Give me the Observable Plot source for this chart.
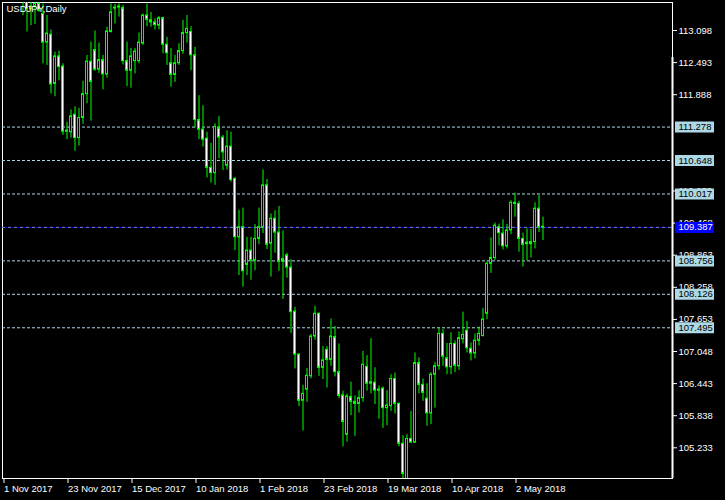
<!DOCTYPE html>
<html>
<head>
<meta charset="utf-8">
<script src="https://cdn.jsdelivr.net/npm/d3@7"></script>
<script src="https://cdn.jsdelivr.net/npm/@observablehq/plot@0.6"></script>
<style>
  html, body { margin: 0; padding: 0; background: #000; overflow: hidden; }
  #chart { width: 725px; height: 500px; }
  #chart svg { display: block; }
</style>
</head>
<body>
<div id="chart"></div>
<script>
// ---- data (USDJPY daily, bar index 0 = 1 Nov 2017) ----
const title = "USDJPY,Daily";
const open  = [113.90,114.05,114.00,114.05,113.75,113.90,113.85,113.50,113.55,113.60,
  113.41,112.87,113.02,112.09,112.61,112.42,111.19,111.18,111.51,111.07,
  111.45,111.90,112.51,112.73,112.36,112.54,112.27,113.07,113.51,113.53,
  113.52,112.52,112.34,112.52,112.52,112.85,113.38,113.29,113.25,113.19,
  113.33,112.83,112.48,112.26,112.48,112.71,113.05,113.07,112.63,111.41,
  111.23,111.06,110.51,110.41,111.26,111.08,110.55,110.91,110.30,109.20,
  109.39,108.68,108.95,108.76,109.17,109.39,110.18,109.08,109.55,109.29,
  108.74,108.86,108.63,107.80,106.99,106.12,106.33,106.58,107.33,107.76,
  106.74,107.08,106.89,107.32,106.66,106.22,105.48,106.19,106.10,106.06,
  106.17,106.76,106.44,106.46,106.33,106.35,105.98,106.02,106.53,106.06,
  105.31,104.64,105.40,105.33,106.83,106.42,106.16,105.88,106.61,106.77,
  107.38,106.92,106.75,107.19,106.77,107.28,107.44,107.10,107.01,107.25,
  107.34,107.76,108.70,108.81,109.39,109.27,109.03,109.33,109.85,109.83,
  109.17,109.10,109.07,109.11,109.74,109.40];
const high  = [114.20,114.30,114.70,114.25,114.00,114.05,114.05,113.70,113.75,113.70,
  113.60,113.38,113.11,112.69,112.71,112.47,111.37,111.60,111.66,111.63,
  112.14,112.63,112.88,113.09,112.86,112.63,113.16,113.60,113.59,113.60,
  113.57,112.88,112.76,112.76,113.05,113.41,113.60,113.44,113.32,113.36,
  113.35,112.97,112.76,112.63,112.85,113.29,113.38,113.17,112.78,111.87,
  111.68,111.18,110.97,111.34,111.48,111.12,111.21,111.18,110.33,109.71,
  109.75,109.20,109.20,109.44,109.75,110.47,110.29,109.64,109.70,109.78,
  109.32,108.90,108.78,107.88,107.01,106.41,106.73,107.37,107.90,107.77,
  107.14,107.14,107.66,107.52,107.19,106.30,106.24,106.47,106.21,106.31,
  107.05,106.97,107.29,106.74,106.40,106.38,106.31,106.61,106.64,106.08,
  105.46,105.48,105.92,107.02,106.93,106.53,106.44,106.65,106.84,107.49,
  107.46,107.20,107.40,107.25,107.42,107.79,107.61,107.21,107.38,107.51,
  107.86,108.74,109.19,109.47,109.45,109.53,109.44,109.89,110.03,109.88,
  109.28,109.36,109.35,109.85,109.99,109.58];
const low   = [113.72,113.80,113.95,113.70,113.68,113.38,113.07,113.19,113.21,113.44,
  112.47,112.44,111.90,111.85,112.15,111.12,111.04,111.07,110.82,110.92,
  111.33,111.72,111.39,112.33,112.29,111.98,112.20,113.05,113.22,113.35,
  112.45,112.04,112.01,112.28,112.47,112.82,113.17,113.16,113.11,113.11,
  112.66,112.44,112.03,112.12,112.44,112.65,112.86,112.34,111.26,111.04,
  110.90,110.32,110.22,110.18,110.68,110.46,110.47,110.24,108.95,108.48,
  108.26,108.48,108.39,108.57,109.06,109.27,108.97,108.45,108.90,108.56,
  108.03,108.43,107.39,106.72,106.01,105.55,106.09,106.53,107.26,106.58,
  106.52,106.36,106.77,106.57,106.16,105.25,105.34,105.84,105.45,105.89,
  106.09,106.30,106.25,106.05,105.77,105.60,105.65,105.92,105.87,105.25,
  104.63,104.56,105.33,105.32,106.25,106.11,105.64,105.67,105.98,106.69,
  106.77,106.61,106.61,106.65,106.69,107.19,107.02,106.87,106.91,107.15,
  107.32,107.65,108.52,108.76,109.04,108.96,108.98,109.25,109.58,108.92,
  108.64,108.76,108.81,108.98,109.29,109.14];
const close = [114.05,114.00,114.05,113.75,113.90,113.85,113.50,113.55,113.60,113.47,
  112.87,113.04,112.08,112.61,112.41,111.19,111.21,111.48,111.07,111.45,
  111.90,112.51,112.13,112.36,112.54,112.27,113.08,113.44,113.53,113.55,
  112.52,112.34,112.61,112.70,112.87,113.38,113.30,113.25,113.20,113.33,
  112.83,112.67,112.26,112.48,112.71,113.05,113.13,112.63,111.41,111.23,
  111.04,110.51,110.41,111.28,111.08,110.80,110.91,110.28,109.20,109.39,
  108.56,108.95,108.76,109.17,109.39,110.18,109.06,109.55,109.29,108.74,
  108.79,108.63,107.79,106.99,106.12,106.25,106.59,107.33,107.76,106.74,
  106.88,106.89,107.33,106.66,106.21,105.72,106.20,106.10,106.06,106.17,
  106.80,106.44,106.47,106.31,106.31,105.98,106.03,106.53,106.06,105.31,
  104.74,105.40,105.33,106.83,106.42,106.27,105.88,106.61,106.77,107.38,
  106.95,106.75,107.19,106.78,107.30,107.36,107.11,107.01,107.25,107.38,
  107.65,108.70,108.81,109.42,109.28,109.03,109.33,109.85,109.83,109.17,
  109.06,109.07,109.11,109.74,109.39,109.387];

const xTickIndex  = [0, 16, 32, 48, 64, 80, 96, 112, 128];
const xTickLabels = ["1 Nov 2017","23 Nov 2017","15 Dec 2017","10 Jan 2018","1 Feb 2018",
                     "23 Feb 2018","19 Mar 2018","10 Apr 2018","2 May 2018"];
// axis ticks (those fully covered by the level boxes are left out)
const yTicks = [113.098,112.493,111.888,110.073,109.468,108.863,
                108.258,107.653,107.048,106.443,105.838,105.233];
const levels = [111.278,110.648,110.017,108.756,108.126,107.495];
const currentPrice = 109.387;

// ---- build ----
const candles = open.map((o, i) => ({i, o, h: high[i], l: low[i], c: close[i]}));

const W = 725, H = 500;
const mL = 2, mR = 53, mT = 2, mB = 22;
const xDomain = [-0.125, (W - mL - mR) / 4 - 0.125];
const yDomain = [104.6544, 113.6257];
const xEnd = xDomain[1];
const green = "#00ff00", lightBlue = "#add8e6";
const font = "Liberation Sans, Arial, sans-serif";

const chart = Plot.plot({
  width: W, height: H,
  marginLeft: mL, marginRight: mR, marginTop: mT, marginBottom: mB,
  style: {background: "#000", color: "#fff", fontFamily: font, fontSize: "9px", overflow: "visible"},
  x: {domain: xDomain, label: null},
  y: {domain: yDomain, label: null},
  marks: [
    Plot.frame({stroke: "#fff"}),
    Plot.ruleY(levels, {stroke: lightBlue, strokeDasharray: "3,2"}),
    Plot.ruleY([currentPrice], {stroke: "#0000ff"}),
    Plot.ruleY([currentPrice], {stroke: "#8080a0", strokeDasharray: "3,3"}),
    Plot.ruleX(candles, {x: "i", y1: "l", y2: "h", stroke: green, clip: true}),
    Plot.rect(candles, {
      x1: d => d.i - 0.25, x2: d => d.i + 0.25, y1: "o", y2: "c",
      fill: d => d.c < d.o ? "#fff" : "#000", stroke: green, clip: true
    }),
    Plot.ruleX([xEnd], {y1: 112.59, y2: yDomain[0], stroke: "#fff", strokeWidth: 2}),
    Plot.axisY(yTicks, {anchor: "right", tickSize: 4, tickPadding: 2, color: "#fff", label: null,
      tickFormat: d => d.toFixed(3), fontSize: 9.5}),
    Plot.axisX(xTickIndex, {anchor: "bottom", tickSize: 5, tickPadding: 2, color: "#fff", label: null,
      textAnchor: "start", dx: 1, fontSize: 9.5,
      tickFormat: d => xTickLabels[xTickIndex.indexOf(d)]}),
    // level boxes
    Plot.ruleY(levels, {x1: xEnd + 0.75, x2: xEnd + 10.5, stroke: lightBlue, strokeWidth: 11}),
    Plot.text(levels, {y: d => d, x: xEnd, dx: 6, text: d => d.toFixed(3), fill: "#000",
      textAnchor: "start", fontSize: 9.5}),
    Plot.ruleY([currentPrice], {x1: xEnd + 0.75, x2: xEnd + 10.5, stroke: "#0000ff", strokeWidth: 11}),
    Plot.text([currentPrice], {y: d => d, x: xEnd, dx: 6, text: d => d.toFixed(3), fill: "#fff",
      textAnchor: "start", fontSize: 9.5}),
    Plot.text([title], {frameAnchor: "top-left", dx: 4, dy: 3, fill: "#fff", fontSize: 9.5,
      textAnchor: "start", lineAnchor: "top"})
  ]
});
document.getElementById("chart").appendChild(chart);
</script>
</body>
</html>
